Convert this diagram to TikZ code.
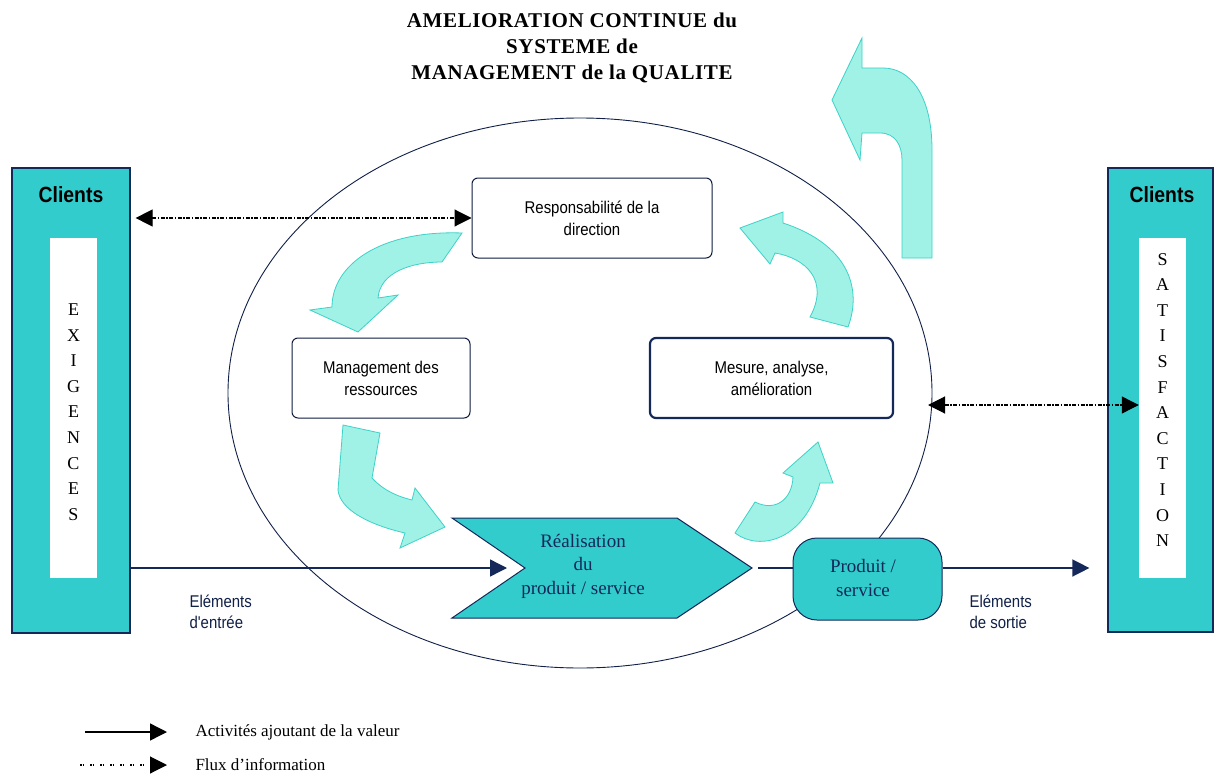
\documentclass[tikz,border=0pt]{standalone}
\usepackage{fontspec}
\setmainfont{Liberation Serif}
\newfontfamily\nsans[FakeStretch=0.88]{Liberation Sans}
\newfontfamily\titlefont[LetterSpace=3]{Liberation Serif}
\usetikzlibrary{arrows.meta,shapes.geometric}
\definecolor{tealc}{RGB}{51,204,204}
\definecolor{lightc}{RGB}{160,242,230}
\definecolor{lightb}{RGB}{60,210,200}
\definecolor{navy}{RGB}{20,40,90}
\tikzset{
  clientbox/.style={draw=navy, line width=1.2pt, fill=tealc, inner sep=0pt},
  whitebar/.style={fill=white, draw=none, inner sep=0pt},
  procbox/.style={draw=navy!70!black, line width=1pt, fill=white, rounded corners=6pt, inner sep=0pt, align=center, font=\nsans\fontsize{17}{22}\selectfont},
  blk/.style={fill=lightc, draw=lightb, line width=0.8pt},
  flow/.style={draw=navy, line width=1.4pt, -{Triangle[length=17pt,width=17pt]}},
  info/.style={draw=black, line width=1.1pt, dash pattern=on 4pt off 1.5pt on 1.5pt off 1.5pt, {Triangle[length=17pt,width=17pt]}-{Triangle[length=17pt,width=17pt]}},
  clientlbl/.style={font=\nsans\bfseries\fontsize{22}{26}\selectfont},
  vletters/.style={align=center, font=\fontsize{18}{25.6}\selectfont},
  serlbl/.style={align=center, font=\fontsize{19}{23.5}\selectfont, text=navy},
  sanslbl/.style={align=left, font=\nsans\fontsize{17}{21}\selectfont, text=navy!80!black},
  legtxt/.style={font=\fontsize{17}{20}\selectfont, anchor=west}
}
\begin{document}
\begin{tikzpicture}[x=1pt,y=-1pt]
\useasboundingbox[fill=white] (0,0) rectangle (1216,784);

% title
\node[align=center, font=\titlefont\bfseries\fontsize{21}{26}\selectfont] (title) at (572,48)
  {AMELIORATION CONTINUE du\\SYSTEME de\\MANAGEMENT de la QUALITE};

% ellipse
\node[ellipse, draw=navy!80!black, line width=0.9pt, minimum width=704pt, minimum height=550pt, inner sep=0pt] (ell) at (580,393) {};

% client boxes
\node[clientbox, minimum width=118pt, minimum height=465pt] (lcl) at (71,400.5) {};
\node[whitebar, minimum width=47pt, minimum height=340pt] (lin) at (73.5,408) {};
\node[clientlbl] (lcllbl) at (71,195) {Clients};
\node[vletters] (exig) at (73.5,412) {E\\X\\I\\G\\E\\N\\C\\E\\S};

\node[clientbox, minimum width=105pt, minimum height=464pt] (rcl) at (1160.5,400) {};
\node[whitebar, minimum width=47pt, minimum height=340pt] (rin) at (1162.5,408) {};
\node[clientlbl] (rcllbl) at (1162,195) {Clients};
\node[vletters] (satis) at (1162.5,400) {S\\A\\T\\I\\S\\F\\A\\C\\T\\I\\O\\N};

% process boxes
\node[procbox, minimum width=240pt, minimum height=80pt] (resp) at (592,218) {Responsabilité de la\\direction};
\node[procbox, minimum width=178pt, minimum height=80pt] (mgmt) at (381,378) {Management des\\ressources};
\node[procbox, line width=2.2pt, draw=navy, minimum width=243pt, minimum height=80pt] (mes) at (771.5,378) {Mesure, analyse,\\amélioration};

% realisation chevron
\draw[fill=tealc, draw=navy, line width=1pt] (452,518) -- (677,518) -- (752,568) -- (677,618) -- (452,618) -- (525,568) -- cycle;
\coordinate (notch) at (525,568);
\coordinate (rtip) at (752,568);
\node[serlbl] (real) at (583,566) {Réalisation\\du\\produit / service};

% produit / service
\node[fill=tealc, draw=navy, line width=1pt, rounded corners=24pt, minimum width=149pt, minimum height=82pt, inner sep=0pt] (prod) at (867.5,579) {};
\node[serlbl] (prodlbl) at (863,578) {Produit /\\service};

% block arrows
\draw[blk] (462,233) -- (442,262) .. controls (412,262) and (380,272) .. (378,298) -- (398,295) -- (358,332) -- (310,310) -- (332,307) .. controls (332,265) and (380,230) .. (462,233) -- cycle;
\draw[blk] (810,317) -- (848,327) .. controls (862,290) and (850,245) .. (783,223) -- (783,212) -- (740,228) -- (770,264) -- (775,253) .. controls (805,258) and (830,280) .. (810,317) -- cycle;
\draw[blk] (902,258) -- (932,258) -- (932,150) .. controls (932,95) and (910,68) .. (883,68) -- (862,68) -- (862,38) -- (832,100) -- (860,160) -- (862,133) -- (880,133) .. controls (895,133) and (902,145) .. (902,160) -- cycle;
\draw[blk] (343,425) -- (380,433) -- (372,478) .. controls (385,492) and (400,497) .. (412,500) -- (415,488) -- (445,527) -- (400,548) -- (405,533) .. controls (370,525) and (340,510) .. (338,490) -- cycle;
\draw[blk] (755,502) -- (735,533) .. controls (760,552) and (805,540) .. (820,483) -- (833,483) -- (818,442) -- (783,473) -- (793,477) .. controls (792,500) and (775,512) .. (755,502) -- cycle;

% flows
\draw[flow, shorten >=18pt] (lcl.east |- notch) -- (notch);
\draw[draw=navy, line width=1.4pt, shorten <=6pt] (rtip) -- (rtip -| prod.west);
\draw[flow, shorten >=18pt] (prod.east |- rtip) -- (rcl.west |- rtip);

% information flows
\draw[info, shorten <=5pt] (lcl.east |- resp.west) -- (resp.west);
\coordinate (dr) at (928,405);
\draw[info] (dr) -- (rin.west |- dr);

% labels
\node[sanslbl, anchor=west] (ein) at (186,612) {Eléments\\d'entrée};
\node[sanslbl, anchor=west] (eout) at (966,612) {Eléments\\de sortie};

% legend
\coordinate (l1a) at (85,732);
\coordinate (l1b) at (167,732);
\coordinate (l2a) at (80,765);
\coordinate (l2b) at (167,765);
\draw[line width=1.4pt, -{Triangle[length=17pt,width=17pt]}] (l1a) -- (l1b);
\draw[line width=1.1pt, dash pattern=on 1.5pt off 1pt on 1.5pt off 6pt, -{Triangle[length=17pt,width=17pt]}] (l2a) -- (l2b);
\node[legtxt] (leg1) at (192,732) {Activités ajoutant de la valeur};
\node[legtxt] (leg2) at (192,765) {Flux d’information};
\end{tikzpicture}
\end{document}
